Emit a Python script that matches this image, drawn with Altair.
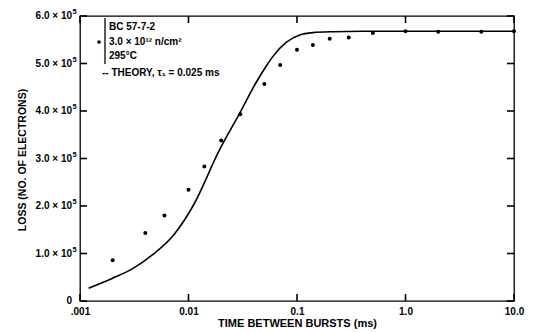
import altair as alt
import pandas as pd

# ---- data ----
burst_ms = [0.002, 0.004, 0.006, 0.01, 0.014, 0.02, 0.03, 0.05, 0.07, 0.1,
            0.14, 0.2, 0.3, 0.5, 1.0, 2.0, 5.0, 10.0]
loss_e5 = [0.86, 1.43, 1.80, 2.34, 2.83, 3.38, 3.93, 4.57, 4.97, 5.29,
           5.39, 5.52, 5.55, 5.64, 5.68, 5.67, 5.67, 5.68]

theory_ms = [0.0012, 0.002, 0.003, 0.0047, 0.0073, 0.011, 0.0194, 0.0296, 0.042,
             0.054, 0.06, 0.08, 0.106, 0.14, 0.215, 0.4, 1.0, 10.0]
theory_e5 = [0.27, 0.48, 0.67, 0.98, 1.39, 2.00, 3.19, 3.95, 4.60,
             5.00, 5.15, 5.45, 5.60, 5.65, 5.67, 5.68, 5.68, 5.68]

x_ticks = [0.001, 0.01, 0.1, 1.0, 10.0]
x_tick_labels = [".001", "0.01", "0.1", "1.0", "10.0"]
y_ticks = [0, 1, 2, 3, 4, 5, 6]
y_tick_base = ["0", "1.0 × 10", "2.0 × 10", "3.0 × 10", "4.0 × 10", "5.0 × 10", "6.0 × 10"]
y_tick_sup = ["", "5", "5", "5", "5", "5", "5"]

legend_lines = ["BC 57-7-2", "3.0 × 10¹² n/cm²", "295°C"]
theory_label = "-- THEORY, τ₁ = 0.025 ms"

# ---- layout ----
W, H = 434, 285
FONT = "Liberation Sans"
TICK = 7

pts = pd.DataFrame({"t": burst_ms, "loss": loss_e5})
th = pd.DataFrame({"t": theory_ms, "loss": theory_e5})
yt = pd.DataFrame({"v": y_ticks, "base": y_tick_base, "sup": y_tick_sup})
xt = pd.DataFrame({"t": x_ticks})

xscale = alt.Scale(type="log", domain=[0.001, 10], nice=False)
yscale = alt.Scale(domain=[0, 6], nice=False, zero=True)

x_expr = " : ".join(
    f"datum.value == {v} ? '{s}'" for v, s in zip(x_ticks[:-1], x_tick_labels[:-1])
) + f" : '{x_tick_labels[-1]}'"

points = alt.Chart(pts).mark_circle(size=16, color="black", opacity=1).encode(
    x=alt.X("t:Q", scale=xscale, axis=alt.Axis(
        orient="bottom", values=x_ticks, labelExpr=x_expr, ticks=False, domain=False,
        grid=False, labelFlush=False, labelPadding=5, labelFontSize=10,
        labelFontWeight="bold",
        title="TIME BETWEEN BURSTS (ms)", titleFontSize=11, titleFontWeight="bold",
        titleY=22, titleBaseline="middle", titleX=W / 2, titleAlign="center")),
    y=alt.Y("loss:Q", scale=yscale, axis=alt.Axis(
        orient="left", values=y_ticks, labels=False, ticks=False, domain=False,
        grid=False,
        title="LOSS (NO. OF ELECTRONS)", titleFontSize=10.5, titleFontWeight="bold",
        titleAngle=270, titleX=-58, titleY=H / 2 + 1, titleAlign="center",
        titleBaseline="middle")),
)

theory = alt.Chart(th).mark_line(color="black", strokeWidth=1.6,
                                 interpolate="monotone").encode(
    x=alt.X("t:Q", scale=xscale),
    y=alt.Y("loss:Q", scale=yscale),
)

# y tick labels with real superscripts
ylab_base = alt.Chart(yt).mark_text(
    align="right", baseline="middle", fontSize=10, fontWeight="bold", font=FONT,
    color="black").encode(y=alt.Y("v:Q", scale=yscale), x=alt.value(-8), text="base:N")
ylab_sup = alt.Chart(yt).mark_text(
    align="left", baseline="middle", fontSize=7.5, fontWeight="bold", font=FONT,
    color="black", dy=-4).encode(y=alt.Y("v:Q", scale=yscale), x=alt.value(-7.5), text="sup:N")

# inward ticks on all four sides
tick_left = alt.Chart(yt).mark_rule(color="black", strokeWidth=1.6).encode(
    y=alt.Y("v:Q", scale=yscale), x=alt.value(0), x2=alt.value(TICK))
tick_right = alt.Chart(yt).mark_rule(color="black", strokeWidth=1.6).encode(
    y=alt.Y("v:Q", scale=yscale), x=alt.value(W - TICK), x2=alt.value(W))
tick_bottom = alt.Chart(xt).mark_rule(color="black", strokeWidth=1.6).encode(
    x=alt.X("t:Q", scale=xscale), y=alt.value(H - TICK), y2=alt.value(H))
tick_top = alt.Chart(xt).mark_rule(color="black", strokeWidth=1.6).encode(
    x=alt.X("t:Q", scale=xscale), y=alt.value(0), y2=alt.value(TICK))

legend_layers = []
for i, line in enumerate(legend_lines):
    legend_layers.append(
        alt.Chart(pd.DataFrame({"txt": [line]})).mark_text(
            align="left", baseline="middle", fontSize=10, fontWeight="bold",
            font=FONT, color="black"
        ).encode(text="txt:N", x=alt.value(29), y=alt.value(11 + 14.5 * i))
    )
legend_layers.append(
    alt.Chart(pd.DataFrame({"txt": [theory_label]})).mark_text(
        align="left", baseline="middle", fontSize=10, fontWeight="bold",
        font=FONT, color="black"
    ).encode(text="txt:N", x=alt.value(22), y=alt.value(57))
)
bracket = alt.Chart(pd.DataFrame({"k": [0]})).mark_rule(
    color="black", strokeWidth=1.3).encode(
    x=alt.value(25), y=alt.value(2), y2=alt.value(48))
legend_dot = alt.Chart(pd.DataFrame({"k": [0]})).mark_circle(
    size=14, color="black", opacity=1).encode(x=alt.value(19), y=alt.value(26))

chart = alt.layer(
    theory, points, ylab_base, ylab_sup,
    tick_left, tick_right, tick_bottom, tick_top,
    bracket, legend_dot, *legend_layers
).properties(
    width=W, height=H,
    autosize=alt.AutoSizeParams(type="none"),
    padding={"left": 72, "top": 8, "right": 13, "bottom": 28},
    background="white",
).configure_view(
    stroke="black", strokeWidth=1.3
).configure_axis(
    labelFont=FONT, titleFont=FONT, labelColor="black", titleColor="black",
)

chart.save("out.html", embed_options={"renderer": "svg", "actions": False})
